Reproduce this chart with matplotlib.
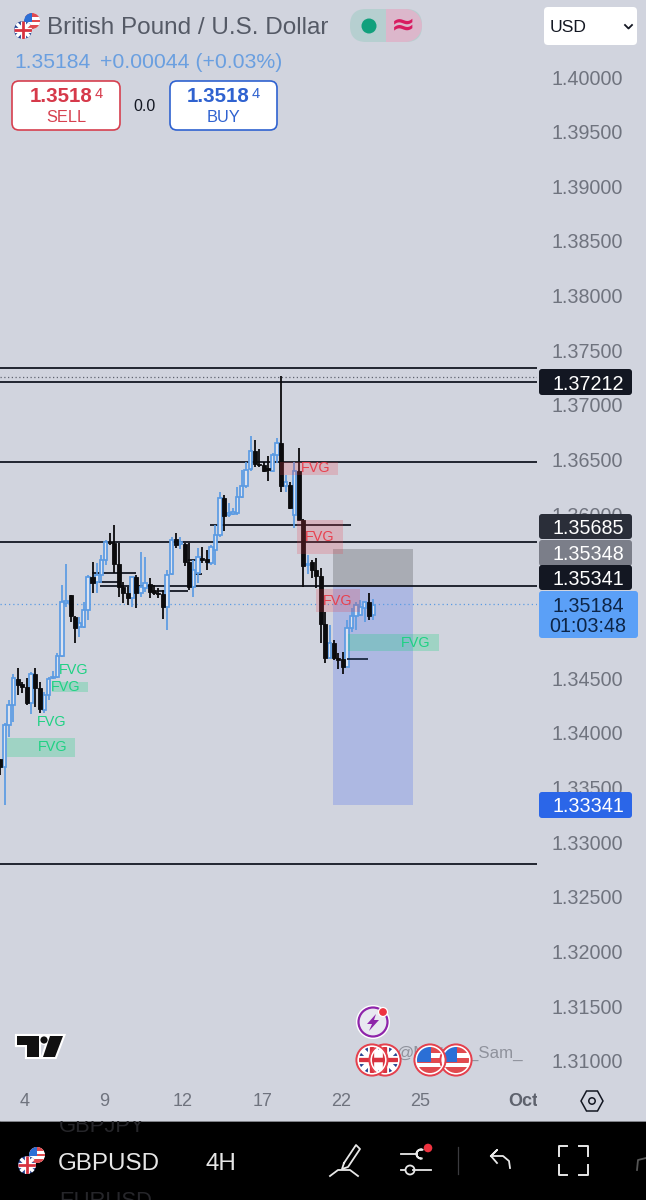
import matplotlib
matplotlib.use("Agg")
import matplotlib.pyplot as plt
from matplotlib.patches import Rectangle, FancyBboxPatch, Circle, Polygon, Wedge

plt.rcParams['font.family'] = ['Liberation Sans', 'DejaVu Sans']

# 4H candles
opens = [1.33759, 1.33692, 1.34073, 1.34256, 1.34491, 1.34448, 1.34424, 1.34271, 1.34540, 1.34409,
         1.34210, 1.34348, 1.34500, 1.34509, 1.34704, 1.35192, 1.35262, 1.35064, 1.34967, 1.34967,
         1.35125, 1.35430, 1.35378, 1.35445, 1.35582, 1.35750, 1.35735, 1.35546, 1.35338, 1.35284,
         1.35232, 1.35424, 1.35278, 1.35323, 1.35363, 1.35308, 1.35284, 1.35271, 1.35149, 1.35454,
         1.35771, 1.35729, 1.35729, 1.35567, 1.35338, 1.35460, 1.35598, 1.35592, 1.35552, 1.35674,
         1.35811, 1.36147, 1.35994, 1.36003, 1.36016, 1.36156, 1.36259, 1.36412, 1.36583, 1.36461,
         1.36449, 1.36421, 1.36400, 1.36543, 1.36650, 1.36259, 1.36269, 1.35994, 1.36397, 1.35948,
         1.35537, 1.35567, 1.35491, 1.35436, 1.34997, 1.34683, 1.34820, 1.34683, 1.34677, 1.34607,
         1.34958, 1.35070, 1.35080, 1.35140, 1.35201, 1.35080]
highs = [1.33759, 1.34088, 1.34302, 1.34540, 1.34591, 1.34470, 1.34500, 1.34561, 1.34591, 1.34470,
         1.34378, 1.34509, 1.34570, 1.34729, 1.35354, 1.35546, 1.35262, 1.35070, 1.35064, 1.35201,
         1.35445, 1.35567, 1.35552, 1.35628, 1.35765, 1.35826, 1.35903, 1.35741, 1.35384, 1.35338,
         1.35430, 1.35445, 1.35659, 1.35613, 1.35415, 1.35354, 1.35323, 1.35308, 1.35491, 1.35790,
         1.35826, 1.35796, 1.35735, 1.35741, 1.35582, 1.35689, 1.35705, 1.35674, 1.35720, 1.35903,
         1.36208, 1.36177, 1.36107, 1.36055, 1.36247, 1.36406, 1.36482, 1.36717, 1.36680, 1.36595,
         1.36482, 1.36534, 1.36564, 1.36695, 1.37266, 1.36360, 1.36299, 1.36482, 1.36604, 1.35954,
         1.35628, 1.35583, 1.35598, 1.35506, 1.35110, 1.34988, 1.34851, 1.34729, 1.34744, 1.35034,
         1.35140, 1.35201, 1.35217, 1.35201, 1.35278, 1.35223]
lows = [1.33616, 1.33341, 1.33966, 1.34104, 1.34348, 1.34363, 1.34256, 1.34174, 1.34235, 1.34180,
        1.34180, 1.34302, 1.34491, 1.34500, 1.34698, 1.35156, 1.35018, 1.34826, 1.34881, 1.34957,
        1.35034, 1.35284, 1.35278, 1.35369, 1.35537, 1.35720, 1.35460, 1.35247, 1.35186, 1.35171,
        1.35156, 1.35140, 1.35247, 1.35293, 1.35232, 1.35262, 1.35232, 1.35040, 1.34942, 1.35445,
        1.35689, 1.35680, 1.35528, 1.35308, 1.35247, 1.35369, 1.35552, 1.35491, 1.35537, 1.35537,
        1.35796, 1.35851, 1.35973, 1.35994, 1.35994, 1.36147, 1.36238, 1.36400, 1.36430, 1.36436,
        1.36391, 1.36308, 1.36391, 1.36467, 1.36208, 1.36208, 1.36046, 1.35872, 1.35942, 1.35339,
        1.35455, 1.35415, 1.35323, 1.34826, 1.34637, 1.34683, 1.34668, 1.34583, 1.34540, 1.34607,
        1.34927, 1.34942, 1.35070, 1.35019, 1.35034, 1.35034]
closes = [1.33692, 1.34073, 1.34256, 1.34500, 1.34439, 1.34418, 1.34271, 1.34540, 1.34409, 1.34217,
          1.34348, 1.34491, 1.34509, 1.34704, 1.35201, 1.35210, 1.35070, 1.34957, 1.35003, 1.35125,
          1.35430, 1.35375, 1.35445, 1.35582, 1.35750, 1.35735, 1.35546, 1.35338, 1.35284, 1.35232,
          1.35424, 1.35278, 1.35338, 1.35369, 1.35293, 1.35284, 1.35271, 1.35149, 1.35445, 1.35765,
          1.35720, 1.35750, 1.35567, 1.35338, 1.35491, 1.35607, 1.35583, 1.35561, 1.35705, 1.35811,
          1.36147, 1.35985, 1.36016, 1.36025, 1.36156, 1.36259, 1.36406, 1.36583, 1.36461, 1.36449,
          1.36400, 1.36406, 1.36543, 1.36650, 1.36259, 1.36299, 1.36061, 1.36397, 1.35948, 1.35528,
          1.35546, 1.35491, 1.35436, 1.34997, 1.34683, 1.34820, 1.34683, 1.34668, 1.34607, 1.34958,
          1.35070, 1.35171, 1.35156, 1.35201, 1.35070, 1.35171]

price_ticks = [1.31, 1.315, 1.32, 1.325, 1.33, 1.335, 1.34, 1.345, 1.35, 1.355, 1.36, 1.365, 1.37, 1.375, 1.38, 1.385, 1.39, 1.395, 1.40]
date_ticks = [5.6, 23.6, 41.6, 59.7, 77.7, 95.7, 119.2]
date_labels = ['4', '9', '12', '17', '22', '25', 'Oct']

full_levels = [1.37338, 1.37212, 1.36479, 1.35747, 1.32802]
level_from = [22.7]
level_from_price = [1.35341]
# price, first candle, last candle
short_levels = [(1.35902, 47.8, 79.9), (1.35463, 20.9, 30.9), (1.35383, 22.5, 27.3),
                (1.35302, 35.7, 42.8), (1.35582, 42.8, 45.9), (1.35454, 43.2, 45.9)]
low_level = (1.34677, 79.0, 83.8)

# left, right, top, bottom
green_fvg = [(1.5, 17.0, 1.33954, 1.33780), (11.8, 20.0, 1.34466, 1.34375),
             (2.9, 17.0, 1.34104, 1.34096), (14.0, 21.6, 1.34580, 1.34572),
             (79.2, 99.9, 1.34905, 1.34750)]
green_text = [(12.0, 1.33872), (15.0, 1.34420), (11.8, 1.34100), (16.8, 1.34576), (94.7, 1.34823)]
red_fvg = [(63.7, 76.9, 1.36479, 1.36360), (67.6, 78.1, 1.35948, 1.35637), (71.9, 82.0, 1.35317, 1.35107)]
red_text = [(71.9, 1.36424), (72.8, 1.35793), (76.9, 1.35207)]
pos_left, pos_right = 75.8, 94.0
entry, stop, target = 1.35341, 1.35685, 1.33341
last_price = 1.35184
dotted_level = 1.37256

BG = '#d1d4de'
BLUE = '#5b9be3'
DARK = '#131722'
GREY = '#6f737e'
GREEN = '#1fd184'
RED = '#e8414f'

fig = plt.figure(figsize=(6.46, 12), dpi=100, facecolor=BG)
ax = fig.add_axes([0, 1 - 1081 / 1200, 537 / 646, 1081 / 1200], facecolor=BG)
ax.set_xlim(-0.075, 122.25)
ax.set_ylim(1.40 - (1081 - 77) / 10933, 1.40 + 77 / 10933)
for s in ax.spines.values():
    s.set_visible(False)

ax.add_patch(Rectangle((pos_left, entry), pos_right - pos_left, stop - entry, fc='#a9acb4', ec='none', zorder=1))
ax.add_patch(Rectangle((pos_left, target), pos_right - pos_left, entry - target, fc='#adb8e2', ec='none', zorder=1))

for p in full_levels:
    ax.axhline(p, color=DARK, lw=1.3, zorder=2)
ax.hlines(level_from_price, level_from, 122.25, color=DARK, lw=1.3, zorder=2)
for p, a, b in short_levels:
    ax.hlines(p, a, b, color=DARK, lw=1.3, zorder=2)
ax.hlines(low_level[0], low_level[1], low_level[2], color='#1b2740', lw=1.3, zorder=5)
ax.axhline(dotted_level, color='#5f6470', lw=0.9, ls=(0, (1, 2)), zorder=2)
ax.axhline(last_price, color=BLUE, lw=0.9, ls=(0, (1, 2.4)), zorder=2)

up = [i for i in range(len(opens)) if closes[i] >= opens[i]]
down = [i for i in range(len(opens)) if closes[i] < opens[i]]
ax.vlines(up, [lows[i] for i in up], [highs[i] for i in up], color=BLUE, lw=1.25, zorder=3)
ax.bar(up, [closes[i] - opens[i] for i in up], bottom=[opens[i] for i in up], width=0.78,
       facecolor='#dde3ef', edgecolor=BLUE, linewidth=1.25, zorder=3)
ax.vlines(down, [lows[i] for i in down], [highs[i] for i in down], color='#0b0b0d', lw=1.3, zorder=4)
ax.bar(down, [opens[i] - closes[i] for i in down], bottom=[closes[i] for i in down], width=0.92,
       facecolor='#0b0b0d', edgecolor='#0b0b0d', linewidth=0.6, zorder=4)

for a, b, t, m in red_fvg:
    ax.add_patch(Rectangle((a, m), b - a, t - m, fc=RED, ec='none', alpha=0.22, zorder=6))
for a, b, t, m in green_fvg:
    ax.add_patch(Rectangle((a, m), b - a, t - m, fc=GREEN, ec='none', alpha=0.28, zorder=6))
for x, y in red_text:
    ax.text(x, y, 'FVG', color=RED, fontsize=10.4, ha='center', va='center', zorder=7)
for x, y in green_text:
    ax.text(x, y, 'FVG', color=GREEN, fontsize=10.4, ha='center', va='center', zorder=7)

ax.yaxis.tick_right()
ax.set_yticks(price_ticks)
ax.set_yticklabels(['%.5f' % p for p in price_ticks])
ax.tick_params(axis='y', length=0, pad=10.5, labelsize=14.2, labelcolor=GREY)
ax.set_xticks(date_ticks)
ax.set_xticklabels(date_labels)
ax.tick_params(axis='x', length=0, pad=9, labelsize=13, labelcolor=GREY)
ax.get_xticklabels()[-1].set_fontweight('bold')
ax.get_xticklabels()[-1].set_color('#5e626d')

# app furniture, in screen pixels
ui = fig.add_axes([0, 0, 1, 1], facecolor='none')
ui.set_xlim(0, 646)
ui.set_ylim(1200, 0)
ui.axis('off')


def rbox(x0, y0, x1, y1, fc, ec='none', lw=0, r=4):
    ui.add_patch(FancyBboxPatch((x0 + r, y0 + r), x1 - x0 - 2 * r, y1 - y0 - 2 * r,
                                boxstyle='round,pad=%s,rounding_size=%s' % (r, r), fc=fc, ec=ec, lw=lw))


def ring_round(cx, cy, r, ring):
    if ring:
        ui.add_patch(Circle((cx, cy), r, fc='none', ec='white', lw=1.4, zorder=11))
        ui.add_patch(Circle((cx, cy), r + 1.6, fc='none', ec=ring, lw=1.4, zorder=11))


def uk_flag(cx, cy, r, ring=None):
    disc = Circle((cx, cy), r, fc='#23408f', ec='none', zorder=8)
    ui.add_patch(disc)
    parts = [([cx - r, cx + r], [cy - r, cy + r], 'white', .28, 9), ([cx - r, cx + r], [cy + r, cy - r], 'white', .28, 9),
             ([cx - r, cx + r], [cy, cy], 'white', .42, 9), ([cx, cx], [cy - r, cy + r], 'white', .42, 9),
             ([cx - r, cx + r], [cy, cy], '#d8323f', .22, 10), ([cx, cx], [cy - r, cy + r], '#d8323f', .22, 10)]
    for xs, ys, c, w, z in parts:
        ln, = ui.plot(xs, ys, color=c, lw=r * w, zorder=z, solid_capstyle='butt')
        ln.set_clip_path(disc)
    ring_round(cx, cy, r, ring)


def us_flag(cx, cy, r, ring=None):
    disc = Circle((cx, cy), r, fc='white', ec='none', zorder=8)
    ui.add_patch(disc)
    bands = [(cy - r, r * .5, '#e04a4f'), (cy - r * .12, r * .3, '#e04a4f'), (cy + r * .5, r * .5, '#e04a4f')]
    for y0, h, c in bands:
        rc = Rectangle((cx - r, y0), 2 * r, h, fc=c, ec='none', zorder=9)
        ui.add_patch(rc)
        rc.set_clip_path(disc)
    canton = Rectangle((cx - r, cy - r), r * 1.05, r * 1.15, fc='#2b6fd6', ec='none', zorder=10)
    ui.add_patch(canton)
    canton.set_clip_path(disc)
    ring_round(cx, cy, r, ring)


# price pills
pills = [(369, 395, DARK, '1.37212', 'white'), (514, 539, '#2a2e39', '1.35685', 'white'),
         (540, 566, '#7b7e89', '1.35348', 'white'), (565, 590, DARK, '1.35341', 'white'),
         (792, 818, '#2b66e8', '1.33341', 'white')]
for y0, y1, c, t, tc in pills:
    rbox(539, y0, 632, y1, c, r=3)
    ui.text(588, (y0 + y1) / 2, t, color=tc, fontsize=14.2, ha='center', va='center_baseline')
rbox(539, 591, 638, 638, '#5ba0f7', r=3)
ui.text(588, 604, '1.35184', color='#0d2547', fontsize=14.2, ha='center', va='center_baseline')
ui.text(588, 625, '01:03:48', color='#0d2547', fontsize=14.2, ha='center', va='center_baseline')

# clip the Oct label at the scale edge
ui.add_patch(Rectangle((537, 1085), 30, 32, fc=BG, ec='none'))

# header
us_flag(32, 21, 8)
uk_flag(23, 30, 9)
ui.text(47, 26, 'British Pound / U.S. Dollar', color='#555a66', fontsize=17.45, ha='left', va='center_baseline')
ui.text(14, 60, '1.35184', color='#6a9fe0', fontsize=15.2, ha='left', va='center_baseline')
ui.text(100, 60, '+0.00044 (+0.03%)', color='#6a9fe0', fontsize=15.3, ha='left', va='center_baseline')

rbox(350, 9, 422, 42, '#b6cfd0', r=16)
ui.add_patch(Rectangle((386, 9), 20, 33, fc='#dcb7cb', ec='none', zorder=2))
ui.add_patch(Wedge((405.5, 25.5), 16.5, -90, 90, fc='#dcb7cb', ec='none', zorder=2))
ui.add_patch(Circle((369, 26), 7.5, fc='#12a07c', ec='none', zorder=3))
ui.text(403, 25, '≈', color='#d81b60', fontsize=21, fontweight='bold', ha='center', va='center', zorder=3, family='DejaVu Sans')

rbox(544, 7, 637, 45, 'white', r=4)
ui.text(550, 26, 'USD', color='#131722', fontsize=12.6, ha='left', va='center_baseline')
ui.plot([625, 628.5, 632], [25, 28.5, 25], color='#131722', lw=1.3)

rbox(12, 81, 120, 130, 'white', ec='#d6404f', lw=1.2, r=7)
rbox(170, 81, 277, 130, 'white', ec='#2f62d0', lw=1.2, r=7)
ui.text(30, 95, '1.3518', color='#d6394a', fontsize=14.8, fontweight='bold', ha='left', va='center_baseline')
ui.text(95, 93, '4', color='#d6394a', fontsize=10.5, ha='left', va='center_baseline')
ui.text(66, 116, 'SELL', color='#d6404f', fontsize=11.8, ha='center', va='center_baseline')
ui.text(187, 95, '1.3518', color='#2f62d0', fontsize=14.8, fontweight='bold', ha='left', va='center_baseline')
ui.text(252, 93, '4', color='#2f62d0', fontsize=10.5, ha='left', va='center_baseline')
ui.text(223, 116, 'BUY', color='#2f62d0', fontsize=11.8, ha='center', va='center_baseline')
ui.text(145, 105, '0.0', color='#131722', fontsize=11.5, ha='center', va='center_baseline')

# TradingView mark
logo_t = [(17, 1036), (39, 1036), (39, 1057), (27, 1057), (27, 1045), (17, 1045)]
logo_s = [(50, 1036), (63, 1036), (55, 1057), (43, 1057)]
ui.add_patch(Polygon(logo_t, closed=True, fc='white', ec='white', lw=3, joinstyle='miter'))
ui.add_patch(Polygon(logo_s, closed=True, fc='white', ec='white', lw=3, joinstyle='miter'))
ui.add_patch(Circle((44, 1040), 5, fc='white', ec='none'))
ui.add_patch(Rectangle((39, 1034), 12, 8, fc='white', ec='none'))
ui.add_patch(Polygon(logo_t, closed=True, fc='#111', ec='none'))
ui.add_patch(Polygon(logo_s, closed=True, fc='#111', ec='none'))
ui.add_patch(Circle((44, 1040), 3.6, fc='#111', ec='none'))

# event badges and watermark
ui.text(397, 1052, '@Mister__Sam_', color='#8f929c', fontsize=12.2, ha='left', va='center_baseline')
uk_flag(385, 1060, 14, ring='#e5404d')
uk_flag(372, 1060, 14, ring='#e5404d')
us_flag(456, 1060, 14, ring='#e5404d')
us_flag(430, 1060, 14, ring='#e5404d')
ui.add_patch(Circle((373, 1022), 17, fc='white', ec='none', zorder=8))
ui.add_patch(Circle((373, 1022), 14.5, fc='#e8e8f0', ec='#8e24aa', lw=1.6, zorder=9))
ui.add_patch(Polygon([(376, 1014), (367, 1024), (372, 1024), (369, 1031), (379, 1020), (374, 1020)], closed=True,
                     fc='#8e24aa', ec='none', zorder=10))
ui.add_patch(Circle((383, 1012), 4.5, fc='#ee3340', ec='white', lw=0.9, zorder=11))

# scale settings hexagon
ui.add_patch(Polygon([(581, 1101), (586.5, 1091), (597.5, 1091), (603, 1101), (597.5, 1111), (586.5, 1111)],
                     closed=True, fc='none', ec='#131722', lw=1.1))
ui.add_patch(Circle((592, 1101), 3.2, fc='none', ec='#131722', lw=1.1))

# bottom bar
ui.add_patch(Rectangle((0, 1121), 646, 79, fc='black', ec='none', zorder=1))
ui.plot([0, 646], [1121, 1121], color='#9a9ca3', lw=0.6, zorder=1)
ui.text(59, 1124, 'GBPJPY', color='#26262a', fontsize=15.8, ha='left', va='center_baseline', zorder=1.2)
ui.text(59, 1199, 'EURUSD', color='#26262a', fontsize=15.8, ha='left', va='center_baseline', zorder=1.2)
ui.add_patch(Rectangle((0, 1111), 200, 9.5, fc=BG, ec='none', zorder=1.5))
ui.text(58, 1161, 'GBPUSD', color='#e6e6e6', fontsize=17.4, ha='left', va='center_baseline', zorder=3)
ui.text(206, 1161, '4H', color='#e6e6e6', fontsize=17.4, ha='left', va='center_baseline', zorder=3)
us_flag(37, 1155, 8)
uk_flag(27, 1165, 9)

W = '#e8e8e8'
# pen
ui.plot([344, 356, 360, 348, 342, 344], [1163, 1145, 1149, 1167, 1169, 1163], color=W, lw=1.3, zorder=3)
ui.plot([330, 338, 350, 358], [1176, 1170, 1170, 1176], color=W, lw=1.3, zorder=3)
# sliders
ui.plot([401, 417], [1154, 1154], color=W, lw=1.3, zorder=3)
ui.add_patch(Wedge((421, 1154), 4.5, 80, 290, width=0.01, ec=W, fc='none', lw=1.3, zorder=3))
ui.plot([413, 431], [1170, 1170], color=W, lw=1.3, zorder=3)
ui.plot([401, 405], [1170, 1170], color=W, lw=1.3, zorder=3)
ui.add_patch(Circle((410, 1170), 4.5, ec=W, fc='none', lw=1.3, zorder=3))
ui.add_patch(Circle((428, 1148), 4.3, fc='#ee3340', ec='none', zorder=4))
ui.plot([458, 458], [1147, 1174], color='#3b3b3f', lw=0.9, zorder=3)
# undo
ui.plot([491, 497, 491, 497], [1156, 1150, 1156, 1163], color=W, lw=1.3, zorder=3)
ui.plot([491, 503, 509, 510], [1156, 1156, 1161, 1168], color=W, lw=1.3, zorder=3)
# full screen corners
for xs, ys in [([559, 559, 567], [1156, 1146, 1146]), ([579, 588, 588], [1146, 1146, 1156]),
               ([559, 559, 567], [1165, 1175, 1175]), ([579, 588, 588], [1175, 1175, 1165])]:
    ui.plot(xs, ys, color=W, lw=1.4, zorder=3)
ui.plot([637, 638, 646], [1170, 1160, 1158], color='#555', lw=1.3, zorder=3)

fig.savefig('out.png', dpi=100, facecolor=BG)
plt.close('all')
